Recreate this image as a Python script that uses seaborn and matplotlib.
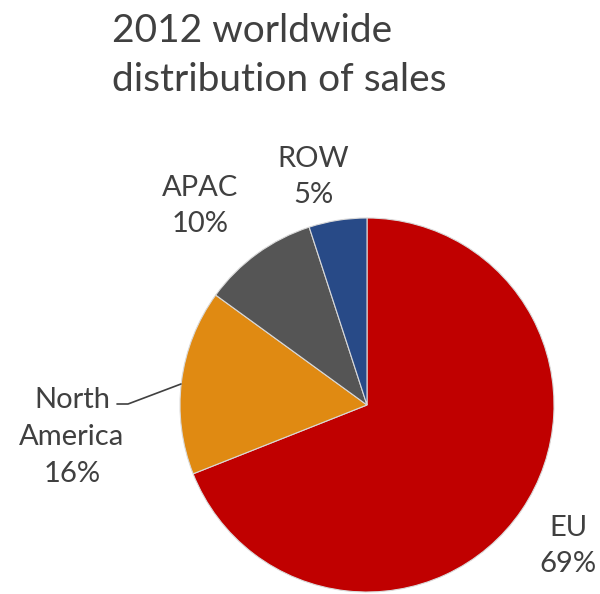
import matplotlib
matplotlib.use("Agg")
import matplotlib.pyplot as plt
import seaborn as sns

regions = ["EU", "North America", "APAC", "ROW"]
shares = [69, 16, 10, 5]
label_texts = ["EU\n69%", "North\nAmerica\n16%", "APAC\n10%", "ROW\n5%"]
colors = ["#C00000", "#E08A12", "#555555", "#284A87"]
title = "2012 worldwide\ndistribution of sales"

sns.set_theme(style="white")
plt.rcParams['font.family'] = ['Lato', 'DejaVu Sans']

fig = plt.figure(figsize=(6.0, 5.94), dpi=100)
ax = fig.add_axes([0, 0, 1, 1])

H = 594
cx, cy, r = 367, H - 405, 187
ax.pie(shares, colors=colors, startangle=90, counterclock=False,
       center=(cx, cy), radius=r, frame=True,
       wedgeprops=dict(edgecolor="#d9d9d9", linewidth=0.8))
ax.set_xlim(0, 600)
ax.set_ylim(0, 594)
ax.set_aspect('equal')
ax.axis('off')

txtc = "#404040"
pos = {"EU": (568, H - 546), "North America": (72, H - 437),
       "APAC": (200, H - 206), "ROW": (313, H - 177)}
for reg, lt in zip(regions, label_texts):
    x, y = pos[reg]
    ax.text(x, y, lt, ha='center', va='center', fontsize=21, color=txtc,
            linespacing=1.5)

# leader line for North America
ax.plot([117, 128, 181], [H - 404, H - 404, H - 384], color="#404040", lw=1.2)

fig.text(112 / 600, 1 - 13 / 594, title, ha='left', va='top', fontsize=28,
         color=txtc, linespacing=1.44)

fig.savefig("out.png", dpi=100)
